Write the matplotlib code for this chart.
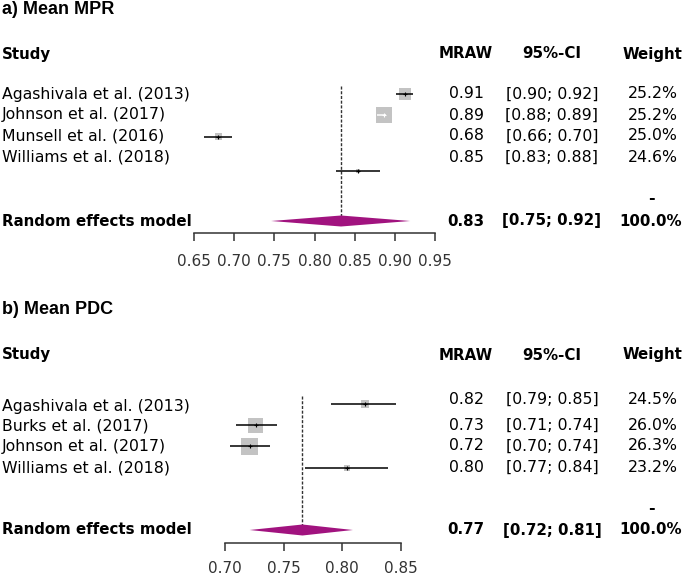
#!/usr/bin/env python
"""
Two stacked forest plots (mean MPR and mean PDC), random effects meta-analysis.
"""

import matplotlib
matplotlib.use("Agg")
import matplotlib.pyplot as plt
from matplotlib.patches import Polygon, Rectangle

plt.rcParams['font.family'] = ['DejaVu Sans']

# ---- data, panel a (MPR)
studies_a = ["Agashivala et al. (2013)", "Johnson et al. (2017)",
             "Munsell et al. (2016)", "Williams et al. (2018)"]
mean_a = [0.913, 0.886, 0.680, 0.854]
lower_a = [0.902, 0.878, 0.663, 0.827]
upper_a = [0.923, 0.889, 0.697, 0.882]
weight_a = [25.2, 25.2, 25.0, 24.6]
pooled_a = [0.833, 0.746, 0.919]
ticks_a = [0.65, 0.70, 0.75, 0.80, 0.85, 0.90, 0.95]

# ---- data, panel b (PDC)
studies_b = ["Agashivala et al. (2013)", "Burks et al. (2017)",
             "Johnson et al. (2017)", "Williams et al. (2018)"]
mean_b = [0.819, 0.726, 0.721, 0.804]
lower_b = [0.790, 0.709, 0.704, 0.768]
upper_b = [0.846, 0.744, 0.738, 0.839]
weight_b = [24.5, 26.0, 26.3, 23.2]
pooled_b = [0.766, 0.721, 0.809]
ticks_b = [0.70, 0.75, 0.80, 0.85]

W, H = 685, 576
fig = plt.figure(figsize=(W / 100, H / 100), dpi=100)

# overlay axes in pixel coordinates for all the text columns
ov = fig.add_axes([0, 0, 1, 1])
ov.set_xlim(0, W)
ov.set_ylim(H, 0)
ov.axis('off')

FS = 11.3
FSB = 10.8
GREY = '#c3c3c3'
MAGENTA = '#a1137f'


def forest(title, studies, mean, lower, upper, weight, pooled, ticks,
           title_y, head_y, label_y, value_y, mark_y, dash_y, pool_y,
           axis_y, x0, x1, top, sq_sizes, tick_pad):
    # texts
    ov.text(2, title_y, title, fontsize=13, fontweight='bold',
            family='Liberation Sans', va='center')
    ov.text(2, head_y, "Study", fontsize=FSB, fontweight='bold', va='center')
    ov.text(466, head_y, "MRAW", fontsize=FSB, fontweight='bold',
            va='center', ha='center')
    ov.text(552, head_y, "95%-CI", fontsize=FSB, fontweight='bold',
            va='center', ha='center')
    ov.text(682, head_y, "Weight", fontsize=FSB, fontweight='bold',
            va='center', ha='right')
    for i, s in enumerate(studies):
        ov.text(2, label_y[i], s, fontsize=FS, va='center')
        ov.text(484, value_y[i], "%.2f" % mean[i], fontsize=FS,
                va='center', ha='right')
        ov.text(552, value_y[i], "[%.2f; %.2f]" % (lower[i], upper[i]),
                fontsize=FS, va='center', ha='center')
        ov.text(678, value_y[i], "%.1f%%" % weight[i], fontsize=FS,
                va='center', ha='right')
    ov.text(651, dash_y, "-", fontsize=FS, fontweight='bold',
            va='center', ha='center')
    ov.text(2, pool_y, "Random effects model", fontsize=FSB,
            fontweight='bold', va='center')
    ov.text(484, pool_y, "%.2f" % pooled[0], fontsize=FSB, fontweight='bold',
            va='center', ha='right')
    ov.text(552, pool_y, "[%.2f; %.2f]" % (pooled[1], pooled[2]),
            fontsize=FSB, fontweight='bold', va='center', ha='center')
    ov.text(682, pool_y, "100.0%", fontsize=FSB, fontweight='bold',
            va='center', ha='right')

    # plotting region, x in data units, y in pixels
    ax = fig.add_axes([x0 / W, 1 - axis_y / H, (x1 - x0) / W,
                       (axis_y - top) / H])
    ax.set_xlim(ticks[0], ticks[-1])
    ax.set_ylim(axis_y, top)
    ax.patch.set_visible(False)
    for side in ['top', 'right', 'left']:
        ax.spines[side].set_visible(False)
    ax.spines['bottom'].set_linewidth(1.1)
    ax.spines['bottom'].set_color('#333333')
    ax.set_yticks([])
    ax.set_xticks(ticks)
    ax.set_xticklabels(["%.2f" % t for t in ticks], fontsize=FS - 0.3,
                       color='#333333')
    ax.tick_params(axis='x', length=6, width=1.1, pad=tick_pad,
                   color='#333333')

    xscale = (ticks[-1] - ticks[0]) / (x1 - x0)
    for i in range(len(studies)):
        side = sq_sizes[i]
        ax.add_patch(Rectangle((mean[i] - side / 2 * xscale,
                                mark_y[i] - side / 2),
                               side * xscale, side, color=GREY, lw=0,
                               zorder=2))
        # CI hidden inside the square is drawn in white
        inside = (upper[i] - lower[i]) / xscale < side
        lc = 'white' if inside else 'black'
        ax.plot([lower[i], upper[i]], [mark_y[i], mark_y[i]], color=lc,
                lw=1.1, zorder=3, solid_capstyle='butt')
        ax.plot([mean[i]], [mark_y[i]], marker='+', color=lc, ms=3,
                mew=0.8, zorder=4)

    ax.plot([pooled[0], pooled[0]], [top + 2, pool_y], color='#333333',
            lw=1.0, ls=(0, (2.2, 1.2)), zorder=1)
    ax.add_patch(Polygon([(pooled[1], pool_y), (pooled[0], pool_y - 5.5),
                          (pooled[2], pool_y), (pooled[0], pool_y + 5.5)],
                         closed=True, color=MAGENTA, lw=0, zorder=3))
    return ax


forest("a) Mean MPR", studies_a, mean_a, lower_a, upper_a, weight_a,
       pooled_a, ticks_a,
       title_y=10, head_y=54, label_y=[94, 115, 136, 157],
       value_y=[94, 115, 136, 157], mark_y=[94, 115, 137, 171],
       dash_y=198, pool_y=221, axis_y=233, x0=194, x1=435, top=84,
       sq_sizes=[12, 16, 7, 4], tick_pad=9)

forest("b) Mean PDC", studies_b, mean_b, lower_b, upper_b, weight_b,
       pooled_b, ticks_b,
       title_y=309, head_y=355, label_y=[407, 426, 447, 468],
       value_y=[399, 425, 446, 467], mark_y=[404, 425, 446, 468],
       dash_y=508, pool_y=530, axis_y=543, x0=225, x1=401, top=394,
       sq_sizes=[8, 15, 17, 6], tick_pad=7)

fig.savefig("out.png", dpi=100)
